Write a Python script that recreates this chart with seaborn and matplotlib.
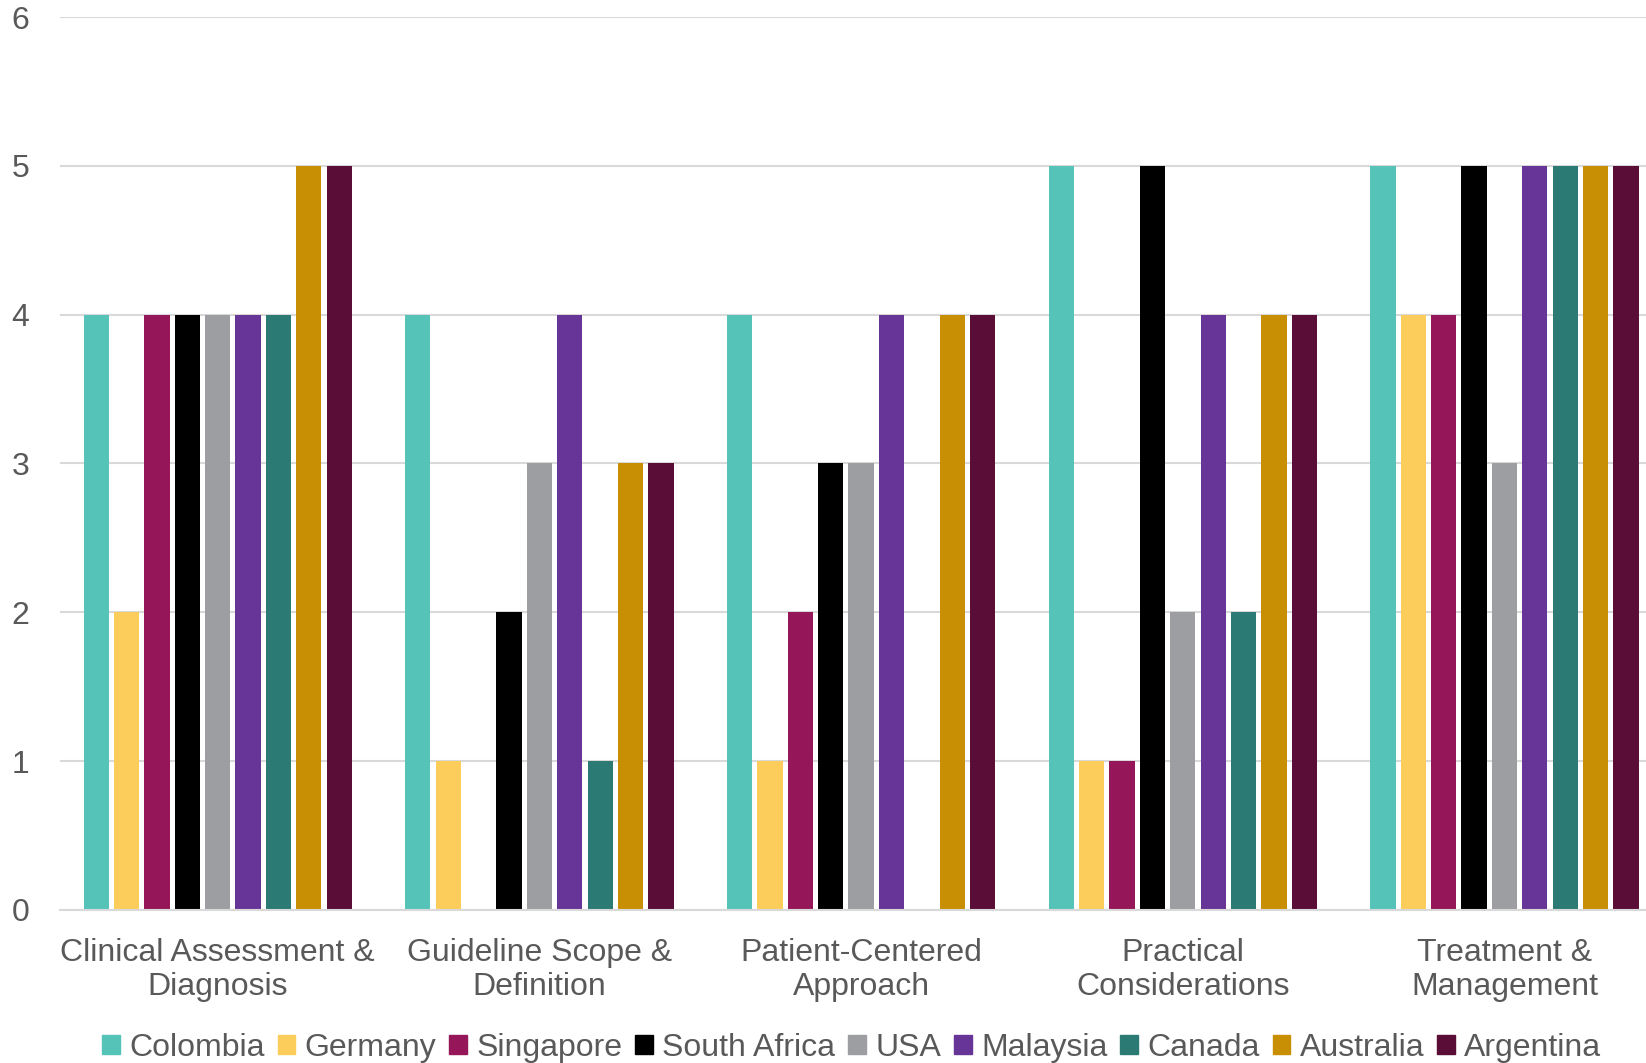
import pandas as pd
import matplotlib.pyplot as plt
import seaborn as sns

# ─── Data ────────────────────────────────────────────────────────────────────
categories = [
    "Clinical Assessment &\nDiagnosis",
    "Guideline Scope &\nDefinition",
    "Patient-Centered\nApproach",
    "Practical\nConsiderations",
    "Treatment &\nManagement",
]
countries = ["Colombia", "Germany", "Singapore", "South Africa", "USA",
             "Malaysia", "Canada", "Australia", "Argentina"]

colombia     = [4, 4, 4, 5, 5]
germany      = [2, 1, 1, 1, 4]
singapore    = [4, 0, 2, 1, 4]
south_africa = [4, 2, 3, 5, 5]
usa          = [4, 3, 3, 2, 3]
malaysia     = [4, 4, 4, 4, 5]
canada       = [4, 1, 0, 2, 5]
australia    = [5, 3, 4, 4, 5]
argentina    = [5, 3, 4, 4, 5]

y_ticks = [0, 1, 2, 3, 4, 5, 6]

colors = ["#56C3B9", "#FCCD5A", "#951759", "#000000", "#9D9EA2",
          "#673498", "#2B7B74", "#C88F05", "#5A0D36"]

series = [colombia, germany, singapore, south_africa, usa,
          malaysia, canada, australia, argentina]
rows = []
for country, vals in zip(countries, series):
    for cat, v in zip(categories, vals):
        rows.append({"Category": cat, "Country": country, "Score": v})
df = pd.DataFrame(rows)

# ─── Style ───────────────────────────────────────────────────────────────────
sns.set_style("white")
plt.rcParams["font.family"] = ["Liberation Sans", "DejaVu Sans"]
TEXT = "#595959"
FS = 23

fig = plt.figure(figsize=(16.46, 10.63), dpi=100)
ax = fig.add_axes([0.0365, 0.144, 0.9635, 0.840])

sns.barplot(data=df, x="Category", y="Score", hue="Country",
            order=categories, hue_order=countries, palette=colors,
            width=0.85, gap=0.17, saturation=1, edgecolor="none",
            ax=ax, legend=False)

ax.set_ylim(0, 6)
ax.set_xlim(-0.49, 4.44)
ax.set_yticks(y_ticks)
ax.grid(axis="y", color="#D9D9D9", linewidth=1.5)
ax.set_axisbelow(True)
for side in ["top", "right", "left"]:
    ax.spines[side].set_visible(False)
ax.spines["bottom"].set_color("#D9D9D9")
ax.spines["bottom"].set_linewidth(1.5)
ax.set_xlabel("")
ax.set_ylabel("")
ax.tick_params(axis="y", length=0, pad=22, labelsize=FS, labelcolor=TEXT)
ax.tick_params(axis="x", length=0, pad=20, labelsize=FS, labelcolor=TEXT)

handles = [plt.Rectangle((0, 0), 1, 1, color=c) for c in colors]
fig.legend(handles, countries, loc="center", bbox_to_anchor=(0.5175, 0.014),
           ncol=9, frameon=False, fontsize=FS, labelcolor=TEXT,
           handlelength=0.55, handleheight=0.55, handletextpad=0.3,
           columnspacing=0.4)

fig.savefig("out.png", dpi=100, facecolor="white")
